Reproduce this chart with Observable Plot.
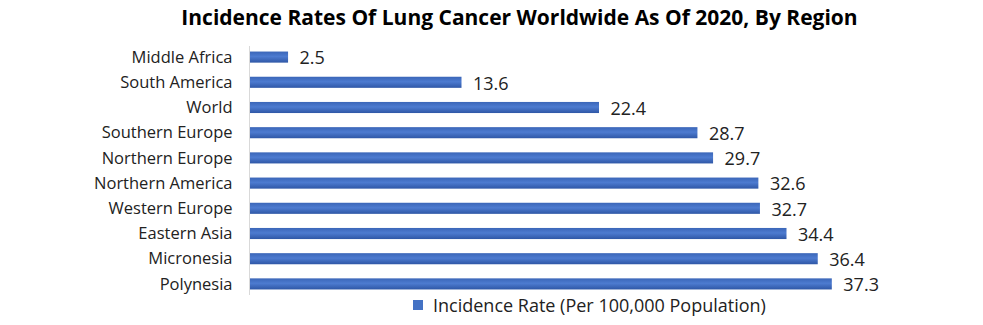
<!DOCTYPE html>
<html><head><meta charset="utf-8">
<script src="https://cdn.jsdelivr.net/npm/d3@7"></script>
<script src="https://cdn.jsdelivr.net/npm/@observablehq/plot@0.6"></script>
<style>
body{margin:0;background:#fff;font-family:"Open Sans",sans-serif;}
#wrap{position:relative;width:983px;height:325px;}
#title{position:absolute;left:0;width:1039px;top:3px;text-align:center;font-weight:bold;font-size:21px;color:#000;}
#legend{position:absolute;left:413px;top:293px;font-size:18px;color:#222;display:flex;align-items:center;}
#legend span.sw{display:inline-block;width:10px;height:10px;background:#4472c4;margin-right:10px;}
</style></head>
<body>
<svg width="0" height="0" style="position:absolute"><defs>
<linearGradient id="barg" x1="0" y1="0" x2="0" y2="1">
<stop offset="0" stop-color="#3b66b8"/><stop offset="0.45" stop-color="#4d7bd0"/><stop offset="1" stop-color="#2f57a6"/>
</linearGradient></defs></svg>
<div id="wrap">
<div id="title">Incidence Rates Of Lung Cancer Worldwide As Of 2020, By Region</div>
<div id="chart"></div>
<div id="legend"><span class="sw"></span>Incidence Rate (Per 100,000 Population)</div>
</div>
<script>
const regions = ["Middle Africa","South America","World","Southern Europe","Northern Europe","Northern America","Western Europe","Eastern Asia","Micronesia","Polynesia"];
const rates = [2.5,13.6,22.4,28.7,29.7,32.6,32.7,34.4,36.4,37.3];
const data = regions.map((r,i)=>({region:r, rate:rates[i]}));
const chart = Plot.plot({
  width:983, height:325,
  marginLeft:249, marginRight:109, marginTop:46, marginBottom:30,
  style:{fontFamily:"Open Sans, sans-serif", fontSize:"16.5px", color:"#222", background:"transparent"},
  x:{domain:[0,40], axis:null},
  y:{domain:regions, paddingInner:0.56, paddingOuter:0.22, round:false, label:null, tickSize:0, tickPadding:17},
  marks:[
    Plot.barX(data,{y:"region", x:"rate", fill:"url(#barg)"}),
    Plot.ruleX([0],{stroke:"#d9d9d9"}),
    Plot.text(data,{y:"region", x:"rate", text:d=>d.rate.toFixed(1), textAnchor:"start", dx:11, dy:1, fontSize:18, fill:"#222"})
  ]
});
document.getElementById("chart").appendChild(chart);
</script>
</body></html>
